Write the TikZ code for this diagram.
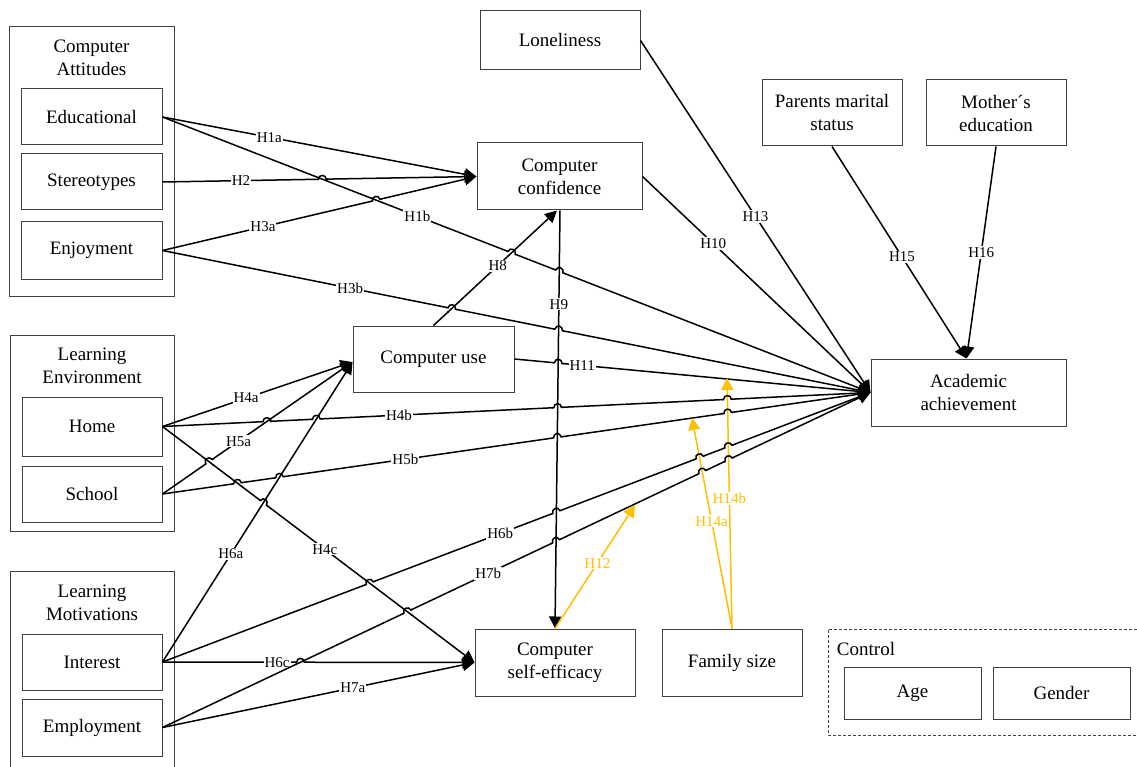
\documentclass[tikz,border=0pt]{standalone}
\usepackage{fontspec}
\setmainfont{Liberation Serif}
\usetikzlibrary{arrows.meta,calc,intersections}
\definecolor{gold}{HTML}{FFC000}
\definecolor{bord}{HTML}{404040}
\newcommand{\hopover}[3]{%
  \path[name intersections={of=#1 and #2, by=hx}];
  \fill[white] (hx) circle[radius=4.8pt];
  \draw[ln,#3] ($(hx)!5.5pt!(#2S)$) -- ($(hx)!5.5pt!(#2E)$);
  \draw[ln] ($(hx)!5.5pt!(#1S)$) -- ($(hx)!3.8pt!(#1S)$) to[bend left=90,looseness=1.7] ($(hx)!3.8pt!(#1E)$) -- ($(hx)!5.5pt!(#1E)$);
}
\begin{document}
\begin{tikzpicture}[x=1pt,y=-1pt,
  ln/.style={line width=1.5pt,black},
  arr/.style={ln,-{Triangle[length=12pt,width=12pt]}},
  garr/.style={line width=1.5pt,gold,-{Triangle[length=12pt,width=12pt]}},
  box/.style={draw=bord,line width=1pt,inner sep=0pt,align=center,font=\fontsize{19}{23}\selectfont},
  grp/.style={draw=bord,line width=1pt},
  ttl/.style={inner sep=0pt,align=center,font=\fontsize{19}{23}\selectfont},
  lab/.style={fill=white,inner sep=1pt,font=\fontsize{15}{17}\selectfont},
  glab/.style={lab,text=gold}]
\useasboundingbox (0,0) rectangle (1137,767);
\fill[white] (0,0) rectangle (1137,767);
% groups
\draw[grp] (9,27) rectangle (174,296);
\node[ttl] (tca) at (91.5,58) {Computer\\Attitudes};
\draw[grp] (10,335) rectangle (174,531);
\node[ttl] (tle) at (92,366) {Learning\\Environment};
\draw[grp] (10,767) -- (10,571) -- (174,571) -- (174,767);
\node[ttl] (tlm) at (92,603) {Learning\\Motivations};
\draw[grp,dash pattern=on 3pt off 2pt,line width=0.8pt] (1137,629) -- (828,629) -- (828,735) -- (1137,735);
\node[ttl] (tctl) at (866,649) {Control};
% boxes
\node[box,minimum width=141,minimum height=56] (edu) at (91.5,117) {Educational};
\node[box,minimum width=141,minimum height=56] (ste) at (91.5,182) {Stereotypes};
\node[box,minimum width=141,minimum height=57] (enj) at (91.5,250.5) {Enjoyment};
\node[box,minimum width=140,minimum height=59] (home) at (92,426.5) {Home};
\node[box,minimum width=140,minimum height=56] (school) at (92,494) {School};
\node[box,minimum width=140,minimum height=56] (inter) at (92,662) {Interest};
\node[box,minimum width=140,minimum height=57] (emp) at (92,727.5) {Employment};
\node[box,minimum width=160,minimum height=59] (lone) at (560,40.5) {Loneliness};
\node[box,minimum width=165,minimum height=67] (cc) at (559.5,176.5) {Computer\\confidence};
\node[box,minimum width=161,minimum height=66] (cu) at (433.5,359) {Computer use};
\node[box,minimum width=160,minimum height=67] (cse) at (555,662.5) {Computer\\self-efficacy};
\node[box,minimum width=140,minimum height=67] (fam) at (732,662.5) {Family size};
\node[box,minimum width=140,minimum height=66] (pms) at (832,113) {Parents marital\\status};
\node[box,minimum width=140,minimum height=66] (med) at (996,113) {Mother´s\\education};
\node[box,minimum width=195,minimum height=67] (aa) at (968.5,392.5) {Academic\\achievement};
\node[box,minimum width=137,minimum height=52] (age) at (912.5,693) {Age};
\node[box,minimum width=137,minimum height=52] (gen) at (1061.5,693) {Gender};
% anchor points
\coordinate (cuin) at ($(cu.west)+(0,3)$);
\coordinate (ccb) at ($(cc.south)+(-2.5,0)$);
\coordinate (ccb2) at ($(cc.south)+(0.5,0)$);
\coordinate (aat) at ($(aa.north)+(-2,0)$);
\coordinate (t12) at (635,505);
\coordinate (t14a) at (692,418);
\coordinate (t14b) at (727,378);
% edges
\draw[arr,name path=h1a] (edu.east) -- node[lab,pos=0.34]{H1a} (cc.west);
\draw[arr,name path=h1b] (edu.east) coordinate(h1bS) -- node[lab,pos=0.36]{H1b} (aa.west) coordinate(h1bE);
\draw[arr,name path=h2] (ste.east) coordinate(h2S) -- node[lab,pos=0.25]{H2} (cc.west) coordinate(h2E);
\draw[arr,name path=h3a] (enj.east) coordinate(h3aS) -- node[lab,pos=0.32]{H3a} (cc.west) coordinate(h3aE);
\draw[arr,name path=h3b] (enj.east) coordinate(h3bS) -- node[lab,pos=0.265]{H3b} (aa.west) coordinate(h3bE);
\draw[arr,name path=h4a] (home.east) -- node[lab,pos=0.44]{H4a} (cuin);
\draw[arr,name path=h4b] (home.east) coordinate(h4bS) -- node[lab,pos=0.334]{H4b} (aa.west) coordinate(h4bE);
\draw[arr,name path=h4c] (home.east) coordinate(h4cS) -- node[lab,pos=0.52]{H4c} (cse.west) coordinate(h4cE);
\draw[arr,name path=h5a] (school.east) coordinate(h5aS) -- node[lab,pos=0.40]{H5a} (cuin) coordinate(h5aE);
\draw[arr,name path=h5b] (school.east) coordinate(h5bS) -- node[lab,pos=0.343]{H5b} (aa.west) coordinate(h5bE);
\draw[arr,name path=h6a] (inter.east) coordinate(h6aS) -- node[lab,pos=0.36]{H6a} (cuin) coordinate(h6aE);
\draw[arr,name path=h6b] (inter.east) coordinate(h6bS) -- node[lab,pos=0.477]{H6b} (aa.west) coordinate(h6bE);
\draw[arr,name path=h6c] (inter.east) coordinate(h6cS) -- node[lab,pos=0.367]{H6c} (cse.west) coordinate(h6cE);
\draw[arr,name path=h7a] (emp.east) -- node[lab,pos=0.61]{H7a} (cse.west);
\draw[arr,name path=h7b] (emp.east) coordinate(h7bS) -- node[lab,pos=0.46]{H7b} (aa.west) coordinate(h7bE);
\draw[arr,name path=h8] (cu.north) coordinate(h8S) -- node[lab,pos=0.52]{H8} (ccb) coordinate(h8E);
\draw[arr,name path=h9] (ccb2) coordinate(h9S) -- node[lab,pos=0.224]{H9} (cse.north) coordinate(h9E);
\draw[arr,name path=h10] (cc.east) -- node[lab,pos=0.31]{H10} (aa.west);
\draw[arr,name path=h11] (cu.east) coordinate(h11S) -- node[lab,pos=0.19]{H11} (aa.west) coordinate(h11E);
\draw[arr,name path=h13] (lone.east) -- node[lab,pos=0.5]{H13} (aa.west);
\draw[arr,name path=h15] (pms.south) -- node[lab,pos=0.52]{H15} (aat);
\draw[arr,name path=h16] (med.south) -- node[lab,pos=0.5]{H16} (aat);
\draw[garr,name path=h12] (cse.north) -- node[glab,pos=0.53]{H12} (t12);
\draw[garr,name path=h14a] (fam.north) coordinate(h14aS) -- node[glab,pos=0.51]{H14a} (t14a) coordinate(h14aE);
\draw[garr,name path=h14b] (fam.north) coordinate(h14bS) -- node[glab,pos=0.52]{H14b} (t14b) coordinate(h14bE);
% line hops
\hopover{h2}{h1b}{}
\hopover{h3a}{h1b}{}
\hopover{h1b}{h8}{}
\hopover{h1b}{h9}{}
\hopover{h3b}{h8}{}
\hopover{h3b}{h9}{}
\hopover{h11}{h9}{}
\hopover{h4b}{h5a}{}
\hopover{h4b}{h6a}{}
\hopover{h4b}{h9}{}
\hopover{h4b}{h14b}{gold}
\hopover{h5a}{h4c}{}
\hopover{h4c}{h6a}{}
\hopover{h5b}{h4c}{}
\hopover{h5b}{h6a}{}
\hopover{h5b}{h9}{}
\hopover{h5b}{h14b}{gold}
\hopover{h6b}{h4c}{}
\hopover{h6b}{h9}{}
\hopover{h6b}{h14a}{gold}
\hopover{h6b}{h14b}{gold}
\hopover{h7b}{h4c}{}
\hopover{h7b}{h9}{}
\hopover{h7b}{h14a}{gold}
\hopover{h7b}{h14b}{gold}
\hopover{h6c}{h7b}{}
\end{tikzpicture}
\end{document}
